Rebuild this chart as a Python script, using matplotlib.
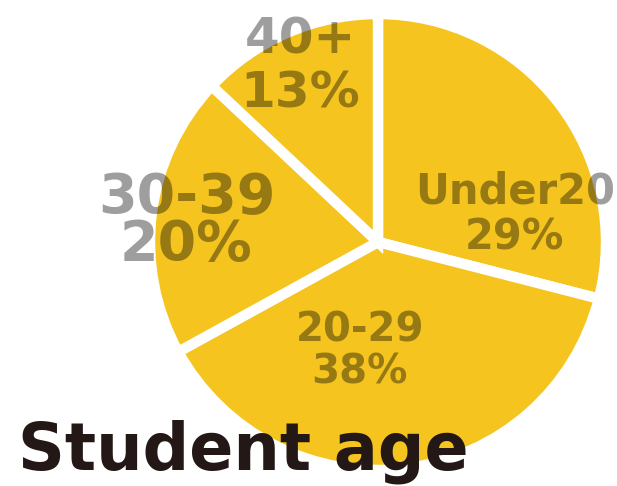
import matplotlib
matplotlib.use("Agg")
import matplotlib.pyplot as plt

categories = ["Under20", "20-29", "30-39", "40+"]
shares = [29, 38, 20, 13]
label_sizes = [30, 29, 40, 36]
title = "Student age"

pie_color = "#F5C41F"
label_color = (0, 0, 0, 0.38)

W, H = 617, 486
fig = plt.figure(figsize=(W / 100, H / 100), dpi=100)

cx, cy, r = 378, 244, 228
ax = fig.add_axes([(cx - r) / W, (cy - r) / H, 2 * r / W, 2 * r / H])
wedges, _ = ax.pie(shares, startangle=90, counterclock=False,
                   colors=[pie_color] * len(shares),
                   wedgeprops=dict(edgecolor="white", linewidth=7.5))
ax.set_xlim(-1, 1)
ax.set_ylim(-1, 1)
ax.set_aspect("equal")
ax.axis("off")

# label anchor positions (data units of the pie axes)
label_pos = [(0.60, 0.12), (-0.08, -0.48), (-0.84, 0.09), (-0.34, 0.77)]
label_spacing = [1.1, 1.08, 0.85, 1.15]
for cat, val, (x, y), fs, ls in zip(categories, shares, label_pos, label_sizes, label_spacing):
    ax.text(x, y, f"{cat}\n{val}%", ha="center", va="center", fontsize=fs,
            fontweight="bold", color=label_color, linespacing=ls,
            family="DejaVu Sans", clip_on=False)

fig.text(18 / W, 1 - 469 / H, title, ha="left", va="baseline", fontsize=47,
         fontweight="bold", color="#231815", family="DejaVu Sans")

fig.savefig("out.png", dpi=100)
